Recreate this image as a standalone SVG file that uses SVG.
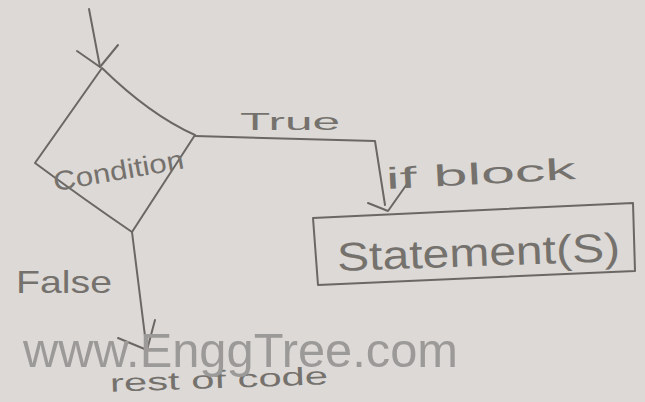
<svg xmlns="http://www.w3.org/2000/svg" width="645" height="402" viewBox="0 0 645 402">
<style>
.ln{fill:none;stroke:#6b6764;stroke-width:2;stroke-linecap:round;stroke-linejoin:round}
.hw{font-family:"Liberation Sans","DejaVu Sans",sans-serif;fill:#75716d}
.wm{font-family:"Liberation Sans",Arial,sans-serif;fill:#9c9a98;font-size:48px}
</style>
<rect x="0" y="0" width="645" height="402" fill="#dcd9d6"/>
<g id="connectors">
  <path class="ln" d="M89,9 L100,67"/>
  <path class="ln" d="M77,51 L100,67 L118,45"/>
  <path class="ln" d="M195,136 L375,141 L385,205"/>
  <path class="ln" d="M368,203 L388,211 L407,184"/>
  <path class="ln" d="M132,232 L146,344"/>
  <path class="ln" d="M118,338 L147,350 L155,320"/>
</g>
<g id="condition">
  <path class="ln" d="M102,68 Q150,115 195,135 L132,232 Q85,200 35,163 Z"/>
  <text class="hw" font-size="27" x="52" y="180" textLength="132" lengthAdjust="spacingAndGlyphs" transform="rotate(-10 118 168)">Condition</text>
</g>
<g id="statement">
  <path class="ln" d="M313,218 L633,203 L635,271 L318,285 Z"/>
  <text class="hw" font-size="40" x="337" y="266" textLength="283" lengthAdjust="spacingAndGlyphs" transform="rotate(-2 478 252)">Statement(S)</text>
</g>
<g id="labels">
  <text class="hw" font-size="24" x="240" y="130" textLength="100" lengthAdjust="spacingAndGlyphs">True</text>
  <text class="hw" font-size="30" x="386" y="184" textLength="190" lengthAdjust="spacingAndGlyphs" transform="rotate(-3 480 175)">if block</text>
  <text class="hw" font-size="32" x="16" y="293" textLength="96" lengthAdjust="spacingAndGlyphs">False</text>
  <text class="hw" font-size="25" x="110" y="388" textLength="218" lengthAdjust="spacingAndGlyphs" transform="rotate(-2 220 380)">rest of code</text>
</g>
<text class="wm" x="23" y="367" textLength="435" lengthAdjust="spacingAndGlyphs">www.EnggTree.com</text>
</svg>
